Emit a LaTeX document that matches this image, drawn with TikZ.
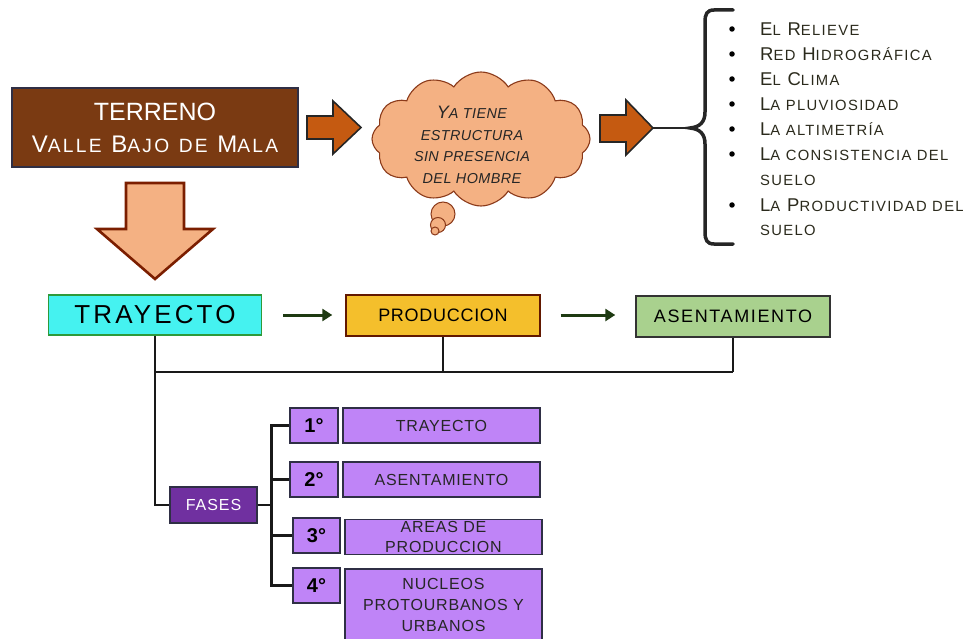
\documentclass[tikz,border=0pt]{standalone}
\usepackage{fontspec}
\usepackage{graphicx}
\setmainfont{Liberation Sans}
\usetikzlibrary{shapes.symbols,arrows.meta}
\definecolor{brownbox}{HTML}{7A3A12}
\definecolor{arrowor}{HTML}{C55A11}
\definecolor{peach}{HTML}{F4B183}
\definecolor{darkred}{HTML}{7B1E00}
\definecolor{cloudline}{HTML}{8B3A1A}
\definecolor{cyanbox}{HTML}{45F2F0}
\definecolor{cyanline}{HTML}{2E9A3A}
\definecolor{goldbox}{HTML}{F4BF2C}
\definecolor{greenbox}{HTML}{A9D18E}
\definecolor{purplebox}{HTML}{BF84F7}
\definecolor{darkpurple}{HTML}{7030A0}
\definecolor{boxline}{HTML}{2F2F45}
\definecolor{listtext}{HTML}{2B2A1C}
\definecolor{arrowgreen}{HTML}{1E3A12}
\newcommand\lo[1]{\scalebox{0.8}{#1}}
\newcommand\fs[2]{\fontsize{#1}{#2}\selectfont}
\newcommand\ls[1]{\addfontfeatures{LetterSpace=#1}}
\begin{document}
\begin{tikzpicture}[x=1pt,y=-1pt,
  box/.style={draw, inner sep=0pt, align=center, line width=1.4pt},
  barrow/.style={fill=arrowor, draw=black!85, line width=1.6pt, line join=miter},
  conn/.style={line width=2.8pt, black!90},
  garrow/.style={line width=3pt, arrowgreen, -{Triangle[length=10pt,width=12pt]}},
  pbox/.style={box, fill=purplebox, draw=boxline, font=\fs{16}{21}\ls{5}, text=black!85},
  nbox/.style={box, fill=purplebox, draw=boxline, font=\bfseries\fs{20}{22}, text=black},
  litem/.style={anchor=west, inner sep=0pt, text=listtext, font=\fs{18.5}{18}\ls{9}},
  bul/.style={fill=black, circle, inner sep=0pt, minimum size=5.5pt}
]
\useasboundingbox (0,0) rectangle (977,639);

% Terreno box
\node[box, fill=brownbox, draw=boxline, minimum width=286, minimum height=79, text=white, font=\fs{24}{32}] (terreno) at (155,127.5)
  {{\fs{25}{32}TERRENO}\\{\ls{12}V\lo{ALLE} B\lo{AJO} \lo{DE} M\lo{ALA}}};

% right arrow 1
\draw[barrow] (307,116) -- (333,116) -- (333,101) -- (361,127.5) -- (333,154) -- (333,139) -- (307,139) -- cycle;

% cloud
\node[cloud, cloud puffs=12, cloud puff arc=115, aspect=1.65, draw=cloudline, fill=peach, line width=1.1pt,
      minimum width=218, minimum height=134, inner sep=0pt] (cloud) at (481,139) {};
\draw[draw=cloudline, fill=peach, line width=1pt] (443,214) circle (12pt);
\draw[draw=cloudline, fill=peach, line width=1pt] (438,225) circle (7.5pt);
\draw[draw=cloudline, fill=peach, line width=1pt] (435,231) circle (4pt);
\node[align=center, inner sep=0pt, font=\itshape\fs{18}{21.5}\ls{3}, text=black!85] (cloudtext) at (472,145)
  {Y\lo{A TIENE}\\ \lo{ESTRUCTURA}\\ \lo{SIN PRESENCIA}\\ \lo{DEL HOMBRE}};

% right arrow 2
\draw[barrow] (600,115) -- (626,115) -- (626,100) -- (653,128) -- (626,155) -- (626,142) -- (600,142) -- cycle;
\coordinate (a2tip) at (653,128);
\coordinate (btip) at (690,128);
\draw[line width=2.5pt, black!85] (a2tip) -- (btip);

% brace
\draw[line width=3.5pt, black!85, line cap=round]
  (733,10) -- (714,10) .. controls (707,10) and (705,14) .. (705,22) -- (705,112)
  .. controls (705,122) and (700,127) .. (690,128)
  .. controls (700,129) and (705,134) .. (705,144) -- (705,232)
  .. controls (705,240) and (707,244) .. (714,244) -- (733,244);

% list
\node[bul] (b1) at (732,29) {};
\node[litem] (l1) at (760,29) {E\lo{L} R\lo{ELIEVE}};
\node[bul] (b2) at (732,54) {};
\node[litem] (l2) at (760,54) {R\lo{ED} H\lo{IDROGRÁFICA}};
\node[bul] (b3) at (732,79) {};
\node[litem] (l3) at (760,79) {E\lo{L} C\lo{LIMA}};
\node[bul] (b4) at (732,104) {};
\node[litem] (l4) at (760,104) {L\lo{A PLUVIOSIDAD}};
\node[bul] (b5) at (732,129) {};
\node[litem] (l5) at (760,129) {L\lo{A ALTIMETRÍA}};
\node[bul] (b6) at (732,154) {};
\node[litem] (l6) at (760,154) {L\lo{A CONSISTENCIA DEL}};
\node[litem] (l6b) at (760,180) {\lo{SUELO}};
\node[bul] (b7) at (732,205) {};
\node[litem] (l7) at (760,205) {L\lo{A} P\lo{RODUCTIVIDAD DEL}};
\node[litem] (l7b) at (760,230) {\lo{SUELO}};

% down arrow
\draw[fill=peach, draw=darkred, line width=2.6pt, line join=miter]
  (126,183) -- (184,183) -- (184,229) -- (213,229) -- (155,279) -- (97,229) -- (126,229) -- cycle;

% second row
\node[box, fill=cyanbox, draw=cyanline, minimum width=213, minimum height=40, font=\fs{26}{30}\ls{12}] (trayecto) at (155,315) {TRAYECTO};
\node[box, fill=goldbox, draw=darkred!80!black, minimum width=194, minimum height=41, font=\fs{18}{20}\ls{4}] (produccion) at (443,315.5) {PRODUCCION};
\node[box, fill=greenbox, draw=black!80, minimum width=194, minimum height=41, font=\fs{18}{20}\ls{9}] (asent) at (733,316.5) {ASENTAMIENTO};

\draw[garrow, shorten <=21pt, shorten >=13pt] (trayecto.east) -- (produccion.west |- trayecto.east);
\draw[garrow, shorten <=20pt, shorten >=20pt] (produccion.east |- trayecto.east) -- (asent.west |- trayecto.east);

\coordinate (j1) at (155,372);
\coordinate (j2) at (443,372);
\coordinate (j3) at (733,372);
\draw[conn] (trayecto.south) -- (j1) -- (j3);
\draw[conn] (produccion.south) -- (j2);
\draw[conn] (asent.south) -- (j3);

% fases
\node[box, fill=darkpurple, draw=boxline, minimum width=87, minimum height=36, text=white, font=\fs{16}{18}\ls{6}] (fases) at (213.5,505) {FASES};
\draw[conn] (j1) |- (fases.west);

\node[nbox, minimum width=48, minimum height=35] (n1) at (314,425.5) {1°};
\node[nbox, minimum width=48, minimum height=35] (n2) at (314,479.5) {2°};
\node[nbox, minimum width=47, minimum height=35] (n3) at (316.5,535.5) {3°};
\node[nbox, minimum width=47, minimum height=35] (n4) at (316.5,585.5) {4°};

\node[pbox, minimum width=197, minimum height=35] (t1) at (441.5,425.5) {TRAYECTO};
\node[pbox, minimum width=197, minimum height=35] (t2) at (441.5,479.5) {ASENTAMIENTO};
\node[pbox, minimum width=197, minimum height=35, text width=195] (t3) at (443.5,537) {AREAS DE\\[-1pt] PRODUCCION};
\node[pbox, minimum width=197, minimum height=72, text width=195] (t4) at (443.5,605) {NUCLEOS\\ PROTOURBANOS Y\\ URBANOS};

\coordinate (bk) at (272,505);
\draw[conn] (fases.east) -- (bk);
\draw[conn] (n1.west) -- ++(-18,0) |- (n4.west);
\draw[conn] (n2.west) -- ++(-18,0);
\draw[conn] (n3.west) -- ++(-21,0);
\end{tikzpicture}
\end{document}
